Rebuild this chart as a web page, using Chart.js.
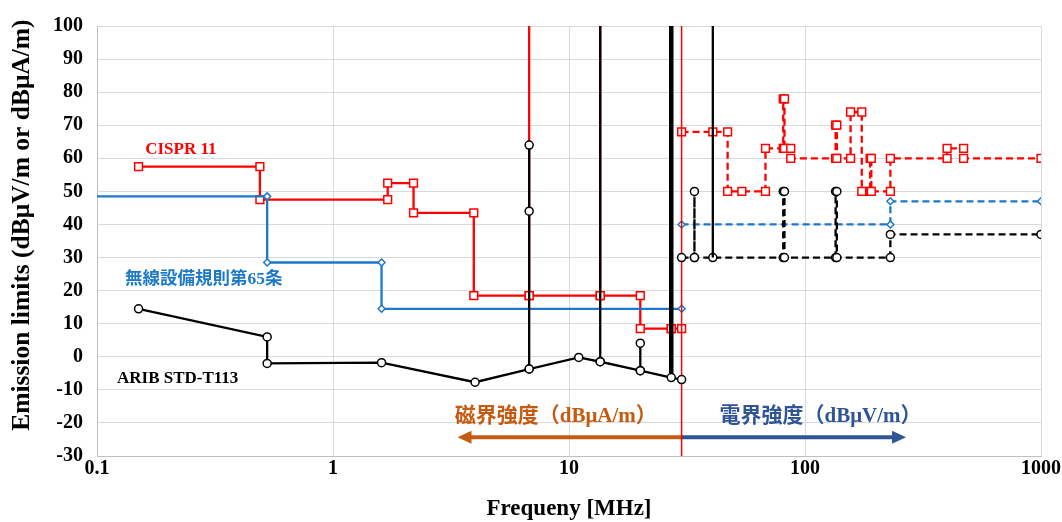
<!DOCTYPE html>
<html><head><meta charset="utf-8">
<script src="https://cdn.jsdelivr.net/npm/chart.js@4"></script>
<style>html,body{margin:0;padding:0;background:#fff}</style>
</head><body>
<canvas id="c" width="1062" height="522"></canvas>
<script>
// ---- tick labels ----
const xTickValues = [0.1, 1, 10, 100, 1000];
const yMin = -30, yMax = 100, yStep = 10;

// ---- ARIB STD-T113 (magnetic, solid) ----
const aribMagF = [0.15, 0.526, 0.526, 1.606, 4.0, 6.78, 6.78, 6.78, 6.78, 11.0, 13.56, 13.56, 13.56, 20.05, 20.05, 20.05, 27.12, 30];
const aribMagV = [14.5, 6.0, -2.0, -1.8, -7.7, -3.7, 44, 64, -3.7, -0.2, -1.5, 100, -1.5, -4.2, 4.1, -4.2, -6.3, -6.9];
// 27.12 MHz ISM (thick)
const aribIsm27F = [27.12, 27.12];
const aribIsm27V = [-6.3, 100];
// 40.68 MHz ISM
const aribIsm40F = [40.68, 40.68];
const aribIsm40V = [30, 100];
// ---- ARIB STD-T113 (electric, dashed) ----
const aribElF = [30, 34, 34, 34, 40.68, 80.872, 80.872, 81.848, 81.848, 134.786, 134.786, 136.414, 136.414, 230, 230, 1000];
const aribElV = [30, 30, 50, 30, 30, 30, 50, 50, 30, 30, 50, 50, 30, 30, 37, 37];

// ---- 無線設備規則第65条 ----
const radioMagF = [0.1, 0.526, 0.526, 1.606, 1.606, 30];
const radioMagV = [48.5, 48.5, 28.5, 28.5, 14.5, 14.5];
const radioElF = [30, 230, 230, 1000];
const radioElV = [40, 40, 47, 47];

// ---- CISPR 11 ----
const cisprMagF = [0.15, 0.49, 0.49, 1.705, 1.705, 2.194, 2.194, 3.95, 3.95, 6.78, 6.78, 6.78, 13.56, 13.56, 13.56, 20.05, 20.05, 27.12, 27.12, 27.12, 30];
const cisprMagV = [57.5, 57.5, 47.5, 47.5, 52.5, 52.5, 43.5, 43.5, 18.5, 18.5, 100, 18.5, 18.5, 100, 18.5, 18.5, 8.5, 8.5, 100, 8.5, 8.5];
const cisprElF = [30, 40.68, 47, 47, 54, 68, 68, 80.872, 80.872, 81.848, 81.848, 87, 87, 134.786, 134.786, 136.414, 136.414, 156, 156, 174, 174, 188.7, 188.7, 190.979, 190.979, 230, 230, 400, 400, 470, 470, 1000];
const cisprElV = [68, 68, 68, 50, 50, 50, 63, 63, 78, 78, 63, 63, 60, 60, 70, 70, 60, 60, 74, 74, 50, 50, 60, 60, 50, 50, 60, 60, 63, 63, 60, 60];

// boundary between magnetic and electric field (30 MHz)
const boundaryF = [30, 30];
const boundaryV = [-30, 100];

// annotation texts
const labelCispr = 'CISPR 11';
const labelRadio = '無線設備規則第65条';
const labelArib = 'ARIB STD-T113';
const labelMag = '磁界強度（dBμA/m）';
const labelEl = '電界強度（dBμV/m）';
const xTitle = 'Frequeny [MHz]';
const yTitle = 'Emission limits (dBμV/m or dBμA/m)';

const pts = (f, v) => f.map((x, i) => ({ x: x, y: v[i] }));
const markR = r => (ctx => (ctx.raw && (ctx.raw.y >= 100 || ctx.raw.x <= 0.1)) ? 0 : r);

const RED = '#FF0000', BLUE = '#1C78C8', BLACK = '#000000';
const SERIF = "'Liberation Serif', 'Times New Roman', 'Noto Sans CJK JP', serif";

const annot = {
  id: 'annot',
  beforeDatasetsDraw(chart) {
    const { ctx, scales: { x, y } } = chart;
    ctx.save();
    // arrows
    const ay = y.getPixelForValue(-24.3);
    const xm = x.getPixelForValue(30);
    const xl = x.getPixelForValue(3.37);
    const xr = x.getPixelForValue(268);
    ctx.lineWidth = 4;
    ctx.strokeStyle = '#C55A11'; ctx.fillStyle = '#C55A11';
    ctx.beginPath(); ctx.moveTo(xm, ay); ctx.lineTo(xl + 12, ay); ctx.stroke();
    ctx.beginPath(); ctx.moveTo(xl, ay); ctx.lineTo(xl + 14, ay - 6.5); ctx.lineTo(xl + 14, ay + 6.5); ctx.closePath(); ctx.fill();
    ctx.strokeStyle = '#2F5597'; ctx.fillStyle = '#2F5597';
    ctx.beginPath(); ctx.moveTo(xm, ay); ctx.lineTo(xr - 12, ay); ctx.stroke();
    ctx.beginPath(); ctx.moveTo(xr, ay); ctx.lineTo(xr - 14, ay - 6.5); ctx.lineTo(xr - 14, ay + 6.5); ctx.closePath(); ctx.fill();
    // texts
    ctx.textBaseline = 'middle'; ctx.textAlign = 'left';
    ctx.font = "bold 21px " + SERIF;
    ctx.fillStyle = '#C55A11';
    ctx.fillText(labelMag, x.getPixelForValue(3.28), y.getPixelForValue(-18));
    ctx.fillStyle = '#2F5597';
    ctx.fillText(labelEl, x.getPixelForValue(43.4), y.getPixelForValue(-18));
    ctx.font = "bold 17px " + SERIF;
    ctx.fillStyle = RED;
    ctx.fillText(labelCispr, x.getPixelForValue(0.16), y.getPixelForValue(62.7));
    ctx.font = "bold 17.5px " + SERIF;
    ctx.fillStyle = BLUE;
    ctx.fillText(labelRadio, x.getPixelForValue(0.1314), y.getPixelForValue(23.4));
    ctx.font = "bold 17px " + SERIF;
    ctx.fillStyle = BLACK;
    ctx.fillText(labelArib, x.getPixelForValue(0.1215), y.getPixelForValue(-6.6));
    ctx.restore();
  },
  afterDraw(chart) {
    const { ctx, scales: { y } } = chart;
    ctx.save();
    ctx.translate(22, y.getPixelForValue(39.8));
    ctx.rotate(-Math.PI / 2);
    ctx.font = "bold 25.5px " + SERIF;
    ctx.fillStyle = '#000';
    ctx.textAlign = 'center'; ctx.textBaseline = 'middle';
    ctx.fillText(yTitle, 0, 0);
    ctx.restore();
  }
};

const solid = (label, f, v, color, width, style, r, dash) => ({
  label, data: pts(f, v), borderColor: color, borderWidth: width,
  borderDash: dash || [], pointStyle: style, pointRadius: r ? markR(r) : 0,
  pointBackgroundColor: '#fff', pointBorderColor: color, pointBorderWidth: 1.5,
  tension: 0, fill: false, spanGaps: false
});

new Chart(document.getElementById('c'), {
  type: 'line',
  data: {
    datasets: [
      solid('ARIB STD-T113', aribMagF, aribMagV, BLACK, 2.3, 'circle', 4),
      solid('ARIB 27.12', aribIsm27F, aribIsm27V, BLACK, 4.5, 'circle', 0),
      solid('ARIB 40.68', aribIsm40F, aribIsm40V, BLACK, 2.3, 'circle', 0),
      solid('ARIB electric', aribElF, aribElV, BLACK, 2.3, 'circle', 4, [7, 4]),
      solid('boundary', boundaryF, boundaryV, RED, 1.5, 'circle', 0),
      solid('無線設備規則第65条', radioMagF, radioMagV, BLUE, 2.3, 'rectRot', 3.5),
      solid('無線設備規則第65条 electric', radioElF, radioElV, BLUE, 2.3, 'rectRot', 3.5, [7, 4]),
      solid('CISPR 11', cisprMagF, cisprMagV, RED, 2.3, 'rect', 5.5),
      solid('CISPR 11 electric', cisprElF, cisprElV, RED, 2.3, 'rect', 5.5, [7, 4])
    ]
  },
  options: {
    responsive: false, animation: false, devicePixelRatio: 1,
    layout: { padding: { top: 22, right: 20, left: 0, bottom: 0 } },
    plugins: { legend: { display: false }, tooltip: { enabled: false } },
    scales: {
      x: {
        type: 'logarithmic', min: 0.1, max: 1000,
        afterBuildTicks: s => { s.ticks = xTickValues.map(v => ({ value: v })); },
        afterFit: s => { s.height = 66; },
        ticks: { callback: v => String(v), color: '#000', font: { family: SERIF, size: 20, weight: 'bold' }, padding: 1, maxRotation: 0, autoSkip: false },
        grid: { color: '#d9d9d9', lineWidth: 1, drawTicks: false },
        border: { color: '#bfbfbf' },
        title: { display: true, text: xTitle, color: '#000', font: { family: SERIF, size: 23, weight: 'bold', lineHeight: 1 }, padding: { top: 0, bottom: 1 } }
      },
      y: {
        type: 'linear', min: yMin, max: yMax,
        afterFit: s => { s.width = 97; },
        ticks: { stepSize: yStep, color: '#000', font: { family: SERIF, size: 20, weight: 'bold' }, padding: 14 },
        grid: { color: '#d9d9d9', lineWidth: 1, drawTicks: false },
        border: { color: '#bfbfbf' },
        title: { display: false }
      }
    }
  },
  plugins: [annot]
});
</script>
</body></html>
